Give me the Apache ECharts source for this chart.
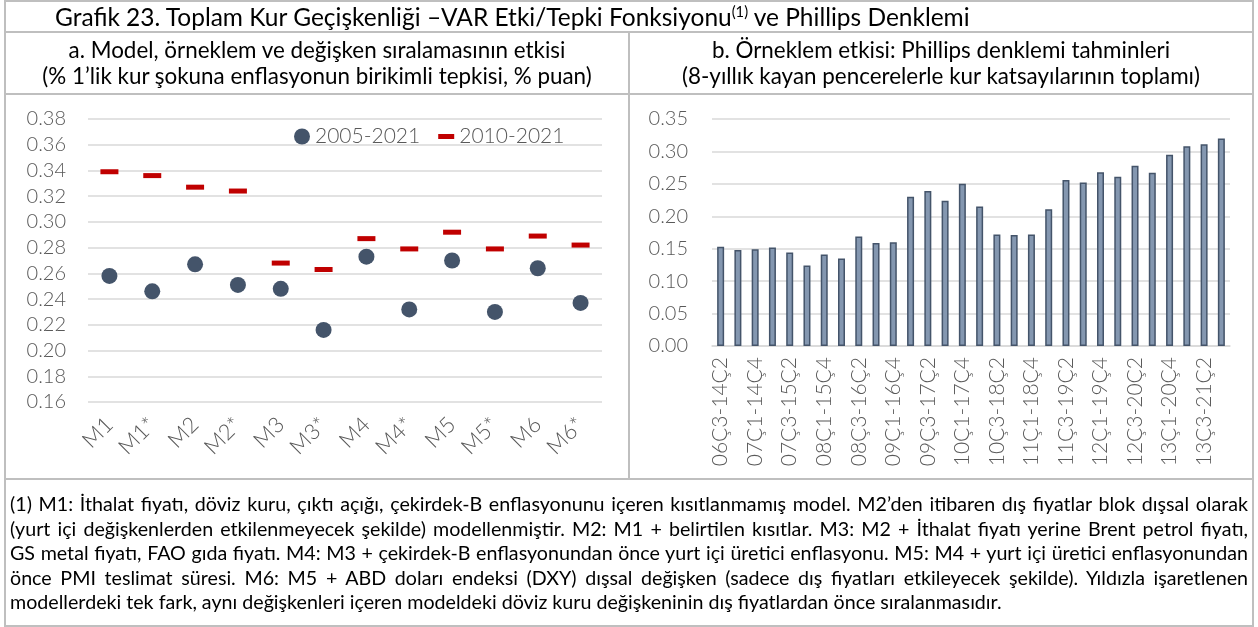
<!DOCTYPE html>
<html>
<head>
<meta charset="utf-8">
<script src="https://cdn.jsdelivr.net/npm/echarts@6/dist/echarts.min.js"></script>
<style>
  html, body { margin:0; padding:0; background:#fff; }
  body { width:1258px; height:627px; position:relative; overflow:hidden; font-family: Lato, "Noto Sans", sans-serif; color:#000; }
  #chart { position:absolute; left:0; top:0; width:1258px; height:627px; }
  .ln { position:absolute; background:#bfbfbf; }
  .txt { position:absolute; white-space:nowrap; line-height:1; }
  .fn { position:absolute; left:10px; width:1238px; text-align:justify; text-align-last:justify; line-height:1; white-space:normal; }
  .fn.last { text-align-last:left; }
</style>
</head>
<body>
<div id="chart"></div>
<div class="ln" style="left:4px;top:0;width:1250px;height:2px"></div>
<div class="ln" style="left:4px;top:0;width:2px;height:627px"></div>
<div class="ln" style="left:1252px;top:0;width:2px;height:627px"></div>
<div class="ln" style="left:4px;top:31px;width:1250px;height:2px"></div>
<div class="ln" style="left:4px;top:93px;width:1250px;height:2px"></div>
<div class="ln" style="left:4px;top:478px;width:1250px;height:2px"></div>
<div class="ln" style="left:628px;top:31px;width:2px;height:449px"></div>
<div class="ln" style="left:4px;top:625px;width:1250px;height:2px"></div>

<div id="title" class="txt">Grafik 23. Toplam Kur Geçişkenliği –VAR Etki/Tepki Fonksiyonu<sup style="font-size:0.6em;vertical-align:0.6em">(1)</sup> ve Phillips Denklemi</div>
<div id="ha1" class="txt">a. Model, örneklem ve değişken sıralamasının etkisi</div>
<div id="ha2" class="txt">(% 1’lik kur şokuna enflasyonun birikimli tepkisi, % puan)</div>
<div id="hb1" class="txt">b. Örneklem etkisi: Phillips denklemi tahminleri</div>
<div id="hb2" class="txt">(8-yıllık kayan pencerelerle kur katsayılarının toplamı)</div>

<div id="fn1" class="fn">(1) M1: İthalat fiyatı, döviz kuru, çıktı açığı, çekirdek-B enflasyonunu içeren kısıtlanmamış model. M2’den itibaren dış fiyatlar blok dışsal olarak</div>
<div id="fn2" class="fn">(yurt içi değişkenlerden etkilenmeyecek şekilde) modellenmiştir. M2: M1 + belirtilen kısıtlar. M3: M2 + İthalat fiyatı yerine Brent petrol fiyatı,</div>
<div id="fn3" class="fn">GS metal fiyatı, FAO gıda fiyatı. M4: M3 + çekirdek-B enflasyonundan önce yurt içi üretici enflasyonu. M5: M4 + yurt içi üretici enflasyonundan</div>
<div id="fn4" class="fn">önce PMI teslimat süresi. M6: M5 + ABD doları endeksi (DXY) dışsal değişken (sadece dış fiyatları etkileyecek şekilde). Yıldızla işaretlenen</div>
<div id="fn5" class="fn last">modellerdeki tek fark, aynı değişkenleri içeren modeldeki döviz kuru değişkeninin dış fiyatlardan önce sıralanmasıdır.</div>

<script>
// ---------- DATA ----------
const models = ['M1','M1*','M2','M2*','M3','M3*','M4','M4*','M5','M5*','M6','M6*'];
const sample2005 = [0.258,0.246,0.267,0.251,0.248,0.216,0.273,0.232,0.270,0.230,0.264,0.237];
const sample2010 = [0.339,0.336,0.327,0.324,0.268,0.263,0.287,0.279,0.292,0.279,0.289,0.282];
const leftTicks = ['0.16','0.18','0.20','0.22','0.24','0.26','0.28','0.30','0.32','0.34','0.36','0.38'];

const windows = ['06Ç3-14Ç2','06Ç4-14Ç3','07Ç1-14Ç4','07Ç2-15Ç1','07Ç3-15Ç2','07Ç4-15Ç3',
  '08Ç1-15Ç4','08Ç2-16Ç1','08Ç3-16Ç2','08Ç4-16Ç3','09Ç1-16Ç4','09Ç2-17Ç1','09Ç3-17Ç2',
  '09Ç4-17Ç3','10Ç1-17Ç4','10Ç2-18Ç1','10Ç3-18Ç2','10Ç4-18Ç3','11Ç1-18Ç4','11Ç2-19Ç1',
  '11Ç3-19Ç2','11Ç4-19Ç3','12Ç1-19Ç4','12Ç2-20Ç1','12Ç3-20Ç2','12Ç4-20Ç3','13Ç1-20Ç4',
  '13Ç2-21Ç1','13Ç3-21Ç2','13Ç4-21Ç3'];
const fxCoef = [0.153,0.148,0.149,0.152,0.144,0.124,0.141,0.135,0.169,0.159,0.160,0.230,
  0.239,0.224,0.250,0.215,0.172,0.171,0.172,0.211,0.256,0.252,0.268,0.261,0.278,0.267,
  0.295,0.308,0.311,0.320];
const rightTicks = ['0.00','0.05','0.10','0.15','0.20','0.25','0.30','0.35'];

// ---------- TEXT LAYOUT ----------
function measure(el, size){ el.style.fontSize = size+'px'; return el.getBoundingClientRect().width; }
function fitTo(el, width){ const w = measure(el, 20); const s = 20*width/w; el.style.fontSize = s+'px'; return s; }
function place(el, left, cy){ const r = el.getBoundingClientRect(); el.style.left = left+'px'; el.style.top = (cy - r.height/2)+'px'; }
function center(el, cx, cy){ const r = el.getBoundingClientRect(); el.style.left = (cx - r.width/2)+'px'; el.style.top = (cy - r.height/2)+'px'; }

function layoutText(){
  const t = document.getElementById('title');
  fitTo(t, 915); place(t, 55, 17);
  const ha1 = document.getElementById('ha1'), ha2 = document.getElementById('ha2');
  const hb1 = document.getElementById('hb1'), hb2 = document.getElementById('hb2');
  const hs = fitTo(ha2, 550);
  [ha1,hb1,hb2].forEach(e=>e.style.fontSize = hs+'px');
  center(ha1, 317, 50); center(ha2, 317, 76);
  center(hb1, 941, 50); center(hb2, 941, 76);
  // footnote: size so that the widest of the justified lines nearly fills the box
  let fs = 100;
  for (let i=1;i<=4;i++){
    const probe = document.createElement('span');
    probe.className='txt';
    probe.textContent = document.getElementById('fn'+i).textContent;
    document.body.appendChild(probe);
    fs = Math.min(fs, fitTo(probe, 1226));
    probe.remove();
  }
  const ys = [504, 528.5, 553, 577.5, 602];
  for (let i=1;i<=5;i++){
    const e = document.getElementById('fn'+i);
    e.style.fontSize = fs+'px';
    e.style.top = (ys[i-1] - fs*0.5)+'px';
  }
}

// ---------- CHART ----------
const tickFont = { color:'#595959', fontFamily:'Lato', fontWeight:300, fontSize:20 };
const chart = echarts.init(document.getElementById('chart'), null, {renderer:'canvas'});
chart.setOption({
  animation:false,
  backgroundColor:'transparent',
  grid:[
    { left:88, right:656, top:119, bottom:225, containLabel:false },
    { left:712, right:28, top:119, bottom:281, containLabel:false }
  ],
  legend:{
    left:289, top:121, itemWidth:16, itemHeight:16, itemGap:18,
    textStyle:{ color:'#595959', fontFamily:'Lato', fontWeight:300, fontSize:21 },
    data:[
      { name:'2005-2021', icon:'circle' },
      { name:'2010-2021', icon:'path://M0,0L16,0L16,5L0,5Z' }
    ]
  },
  xAxis:[
    { gridIndex:0, type:'category', data:models, boundaryGap:true,
      axisLine:{show:false}, axisTick:{show:false},
      axisLabel:Object.assign({ rotate:45, margin:19, interval:0 }, tickFont, {fontSize:22}) },
    { gridIndex:1, type:'category', data:windows, boundaryGap:true,
      axisLine:{show:true, lineStyle:{color:'#d9d9d9', width:1.5}}, axisTick:{show:false},
      axisLabel:Object.assign({ rotate:90, margin:11, interval:1 }, tickFont, {fontSize:21}) }
  ],
  yAxis:[
    { gridIndex:0, type:'value', min:0.16, max:0.38, interval:0.02,
      axisLine:{show:false}, axisTick:{show:false},
      splitLine:{ lineStyle:{ color:'#d9d9d9', width:1.5 } },
      axisLabel:Object.assign({ margin:22, formatter:v=>leftTicks[Math.round((v-0.16)/0.02)] }, tickFont) },
    { gridIndex:1, type:'value', min:0, max:0.35, interval:0.05,
      axisLine:{show:false}, axisTick:{show:false},
      splitLine:{ lineStyle:{ color:'#d9d9d9', width:1.5 } },
      axisLabel:Object.assign({ margin:24, formatter:v=>rightTicks[Math.round(v/0.05)] }, tickFont) }
  ],
  series:[
    { name:'2005-2021', type:'scatter', xAxisIndex:0, yAxisIndex:0, data:sample2005,
      symbol:'circle', symbolSize:[16,16], itemStyle:{ color:'#44546a', opacity:1 }, z:3 },
    { name:'2010-2021', type:'scatter', xAxisIndex:0, yAxisIndex:0, data:sample2010,
      symbol:'rect', symbolSize:[18,5], itemStyle:{ color:'#c00000', opacity:1 }, z:3 },
    { name:'fx', type:'bar', xAxisIndex:1, yAxisIndex:1, data:fxCoef, barWidth:7,
      itemStyle:{ color:'#8497b0', borderColor:'#44546a', borderWidth:1.5 } }
  ]
});

function go(){ layoutText(); }
if (document.fonts && document.fonts.ready) { document.fonts.ready.then(go); } else { go(); }
go();
</script>
</body>
</html>
